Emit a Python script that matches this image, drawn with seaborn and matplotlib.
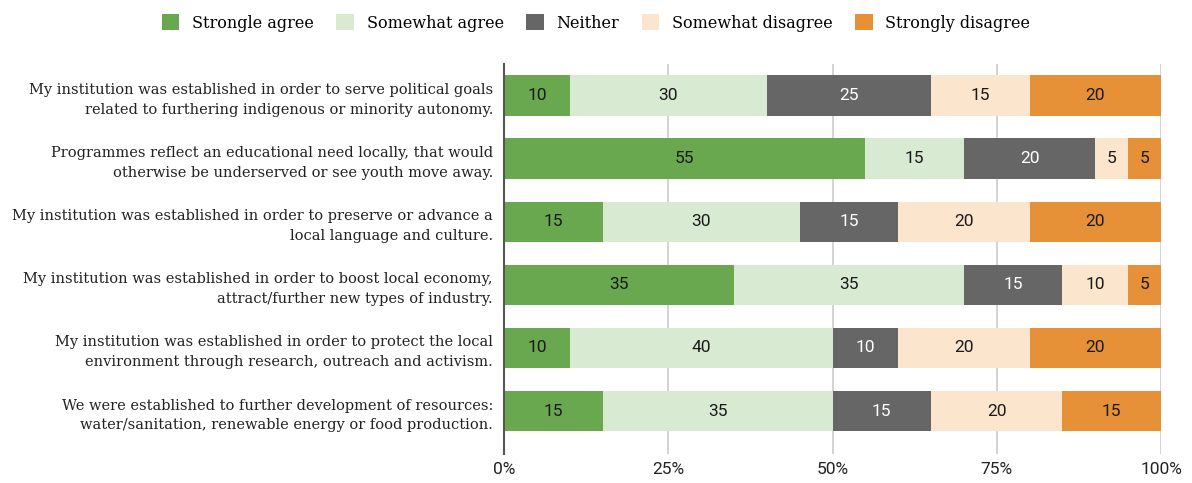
import numpy as np
import pandas as pd
import matplotlib
matplotlib.use("Agg")
import matplotlib.pyplot as plt
from matplotlib.patches import Patch
import seaborn as sns

questions = [
    "My institution was established in order to serve political goals\nrelated to furthering indigenous or minority autonomy.",
    "Programmes reflect an educational need locally, that would\notherwise be underserved or see youth move away.",
    "My institution was established in order to preserve or advance a\nlocal language and culture.",
    "My institution was established in order to boost local economy,\nattract/further new types of industry.",
    "My institution was established in order to protect the local\nenvironment through research, outreach and activism.",
    "We were established to further development of resources:\nwater/sanitation, renewable energy or food production.",
]
responses = ["Strongle agree", "Somewhat agree", "Neither", "Somewhat disagree", "Strongly disagree"]
strongly_agree = [10, 55, 15, 35, 10, 15]
somewhat_agree = [30, 15, 30, 35, 40, 35]
neither = [25, 20, 15, 15, 10, 15]
somewhat_disagree = [15, 5, 20, 10, 20, 20]
strongly_disagree = [20, 5, 20, 5, 20, 15]
tick_values = [0, 25, 50, 75, 100]
tick_labels = ["0%", "25%", "50%", "75%", "100%"]

colors = ["#6aa84f", "#d9ead3", "#666666", "#fce5cd", "#e69138"]
text_colors = ["#1a1a1a", "#1a1a1a", "#ffffff", "#1a1a1a", "#1a1a1a"]

series = [strongly_agree, somewhat_agree, neither, somewhat_disagree, strongly_disagree]
values = np.array(series, dtype=float)
cum = np.cumsum(values, axis=0)

serif = ["DejaVu Serif"]
sans = ["Roboto", "DejaVu Sans"]

fig = plt.figure(figsize=(11.92, 4.83), dpi=100)
ax = fig.add_axes([504 / 1192, (483 - 454) / 483, (1161 - 504) / 1192, (454 - 64) / 483])

# stacked bars: draw cumulative totals from the right-most segment down
for i in range(len(responses) - 1, -1, -1):
    df = pd.DataFrame({"question": questions, "total": cum[i]})
    sns.barplot(data=df, x="total", y="question", orient="h", order=questions,
                color=colors[i], saturation=1, width=0.64, ax=ax, zorder=3,
                linewidth=0)

for i in range(len(responses)):
    for j in range(len(questions)):
        v = values[i, j]
        if v <= 0:
            continue
        center = cum[i, j] - v / 2
        ax.text(center, j, f"{int(v)}", ha="center", va="center",
                fontsize=12.5, color=text_colors[i], family=sans, zorder=4)

ax.set_xlim(0, 100)
ax.set_ylim(5.68, -0.5)
ax.set_xticks(tick_values)
ax.set_xticklabels(tick_labels, family=sans, fontsize=12.5, color="#222222")
ax.set_yticks(range(len(questions)))
ax.set_yticklabels(questions, family=serif, fontsize=10.5, color="#222222",
                   linespacing=1.5)
ax.tick_params(axis="both", length=0)
ax.tick_params(axis="x", pad=6)
ax.tick_params(axis="y", pad=8)
ax.set_xlabel("")
ax.set_ylabel("")
ax.grid(axis="x", color="#cccccc", linewidth=1.2, zorder=0)
ax.grid(axis="y", visible=False)
for s in ["top", "right", "bottom"]:
    ax.spines[s].set_visible(False)
ax.spines["left"].set_color("#555555")
ax.spines["left"].set_linewidth(1.5)
ax.spines["left"].set_zorder(5)

handles = [Patch(facecolor=c, edgecolor="none") for c in colors]
fig.legend(handles, responses, loc="center", bbox_to_anchor=(0.5, 1 - 23 / 483),
           ncol=5, frameon=False, prop={"family": serif, "size": 11.5},
           handlelength=1.1, handleheight=1.1, columnspacing=1.4, handletextpad=0.8)

fig.savefig("out.png", dpi=100)
